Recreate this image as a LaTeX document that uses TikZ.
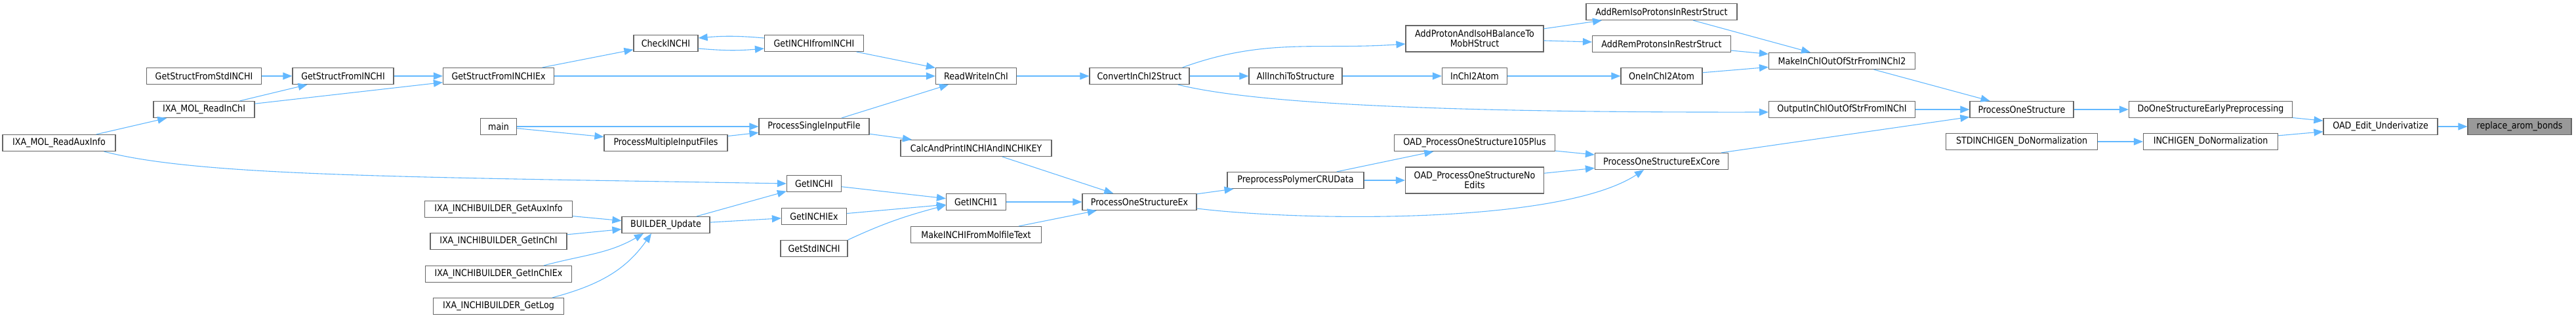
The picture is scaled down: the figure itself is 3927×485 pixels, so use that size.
\documentclass[tikz,border=0pt]{standalone}
\usepackage{fontspec}
\setmainfont{DejaVu Sans}[FakeStretch=0.88]
\usepackage{tikz}
\usetikzlibrary{arrows.meta}

\definecolor{edgeblue}{HTML}{63B8FF}
\definecolor{boxgray}{HTML}{666666}
\definecolor{markgray}{HTML}{999999}

\begin{document}
\begin{tikzpicture}[x=0.5pt,y=-0.5pt,
	fn/.style={draw=boxgray, line width=0.6pt, fill=white, inner sep=0pt,
		minimum height=12.5pt, align=center, font=\fontsize{7.2}{7.4}\selectfont},
	call/.style={draw=edgeblue, line width=0.55pt},
	>={Triangle[length=7pt,width=5.5pt]}]
	\useasboundingbox (0,0) rectangle (3927,485);

	% callers of the reader side
	\path (311,116) node (gsfstd) [fn, minimum width=87.5pt] {GetStructFromStdINCHI}
		  (523,116) node (gsfi) [fn, minimum width=77pt] {GetStructFromINCHI}
		  (760,116) node (gsfiex) [fn, minimum width=84.5pt] {GetStructFromINCHIEx}
		  (311,167) node (ixareadinchi) [fn, minimum width=77pt] {IXA\_MOL\_ReadInChI}
		  (90,218) node (ixaaux) [fn, minimum width=86pt] {IXA\_MOL\_ReadAuxInfo}
		  (1015,66) node (checkinchi) [fn, minimum width=49pt] {CheckINCHI}
		  (1241,66) node (getinchifrom) [fn, minimum width=75.5pt] {GetINCHIfromINCHI}
		  (760,193) node (main) [fn, minimum width=27.5pt] {main}
		  (1015,218) node (pmif) [fn, minimum width=94pt] {ProcessMultipleInputFiles}
		  (1241,193) node (psif) [fn, minimum width=84pt] {ProcessSingleInputFile};

	% builder side
	\path (760,319) node (ibaux) [fn, minimum width=112.5pt] {IXA\_INCHIBUILDER\_GetAuxInfo}
		  (760,368) node (ibinchi) [fn, minimum width=104pt] {IXA\_INCHIBUILDER\_GetInChI}
		  (760,418) node (ibinchiex) [fn, minimum width=111.5pt] {IXA\_INCHIBUILDER\_GetInChIEx}
		  (760,467) node (iblog) [fn, minimum width=99.5pt] {IXA\_INCHIBUILDER\_GetLog}
		  (1015,343) node (bupdate) [fn, minimum width=67pt] {BUILDER\_Update}
		  (1241,280) node (getinchi) [fn, minimum width=41.5pt] {GetINCHI}
		  (1241,330) node (getinchiex) [fn, minimum width=49.5pt] {GetINCHIEx}
		  (1241,379) node (getstdinchi) [fn, minimum width=51pt] {GetStdINCHI};

	\path (1488,116) node (rwinchi) [fn, minimum width=61.5pt] {ReadWriteInChI}
		  (1488,226) node (calcprint) [fn, minimum width=115pt] {CalcAndPrintINCHIAndINCHIKEY}
		  (1488,308) node (getinchi1) [fn, minimum width=45.5pt] {GetINCHI1}
		  (1488,358) node (makemol) [fn, minimum width=99.5pt] {MakeINCHIFromMolfileText}
		  (1737,116) node (convert) [fn, minimum width=76pt] {ConvertInChI2Struct}
		  (1737,308) node (posex) [fn, minimum width=87pt] {ProcessOneStructureEx}
		  (1975,116) node (allinchi) [fn, minimum width=71pt] {AllInchiToStructure}
		  (1975,275) node (preproc) [fn, minimum width=104pt] {PreprocessPolymerCRUData}
		  (2248,59) node (addproton) [fn, minimum width=105pt, minimum height=20pt] {AddProtonAndIsoHBalanceTo\\MobHStruct}
		  (2248,116) node (inchi2atom) [fn, minimum width=49.5pt] {InChI2Atom}
		  (2248,218) node (oad105) [fn, minimum width=122.5pt] {OAD\_ProcessOneStructure105Plus}
		  (2248,275) node (oadnoedits) [fn, minimum width=105.5pt, minimum height=20pt] {OAD\_ProcessOneStructureNo\\Edits};

	\path (2533,18) node (addremiso) [fn, minimum width=115pt] {AddRemIsoProtonsInRestrStruct}
		  (2533,67) node (addrem) [fn, minimum width=105.5pt] {AddRemProtonsInRestrStruct}
		  (2533,116) node (oneinchi2atom) [fn, minimum width=62pt] {OneInChI2Atom}
		  (2533,246) node (posexcore) [fn, minimum width=101.5pt] {ProcessOneStructureExCore}
		  (2808,93) node (makeinchi2) [fn, minimum width=111.5pt] {MakeInChIOutOfStrFromINChI2}
		  (2808,167) node (outputinchi) [fn, minimum width=111.5pt] {OutputInChIOutOfStrFromINChI}
		  (3082,167) node (pos) [fn, minimum width=79pt] {ProcessOneStructure}
		  (3082,216) node (stdgen) [fn, minimum width=115.5pt] {STDINCHIGEN\_DoNormalization}
		  (3370,167) node (doone) [fn, minimum width=124.5pt] {DoOneStructureEarlyPreprocessing}
		  (3370,216) node (inchigen) [fn, minimum width=102.5pt] {INCHIGEN\_DoNormalization}
		  (3629,193) node (oadedit) [fn, minimum width=87pt] {OAD\_Edit\_Underivatize}
		  (3841,193) node (replace) [fn, fill=markgray, minimum width=79pt] {replace\_arom\_bonds};

	% calls
	\draw[call,->] (gsfstd) -- (gsfi);
	\draw[call,->] (gsfi) -- (gsfiex);
	\draw[call,->] (ixareadinchi) -- (gsfi);
	\draw[call,->] (ixareadinchi) -- (gsfiex);
	\draw[call,->] (ixaaux) -- (ixareadinchi);
	\draw[call,->] ([xshift=-9pt]ixaaux.south east) .. controls (300,268) and (600,270) .. (getinchi.west);
	\draw[call,->] (gsfiex) -- (checkinchi);
	\draw[call,->] (gsfiex) -- (rwinchi);
	\draw[call,->] ([yshift=4pt]getinchifrom.west) to[bend right=5] ([yshift=4pt]checkinchi.east);
	\draw[call,->] ([yshift=-4pt]checkinchi.east) to[bend right=5] ([yshift=-4pt]getinchifrom.west);
	\draw[call,->] (getinchifrom) -- (rwinchi);
	\draw[call,->] (main) -- (psif);
	\draw[call,->] (main) -- (pmif);
	\draw[call,->] (pmif) -- (psif);
	\draw[call,->] (psif) -- (rwinchi);
	\draw[call,->] (psif) -- (calcprint);
	\draw[call,->] (calcprint) -- (posex);
	\draw[call,->] (ibaux) -- (bupdate);
	\draw[call,->] (ibinchi) -- (bupdate);
	\draw[call,->] ([xshift=-21.5pt]ibinchiex.north east) to[out=15,in=210] ([xshift=-17pt]bupdate.south);
	\draw[call,->] ([xshift=-9pt]iblog.north east) to[out=15,in=235] ([xshift=-11pt]bupdate.south);
	\draw[call,->] (bupdate) -- (getinchi);
	\draw[call,->] (bupdate) -- (getinchiex);
	\draw[call,->] (getinchi) -- (getinchi1);
	\draw[call,->] (getinchiex) -- (getinchi1);
	\draw[call,->] (getstdinchi.north east) to[out=25,in=195] ([yshift=-2.5pt]getinchi1.west);
	\draw[call,->] (getinchi1) -- (posex);
	\draw[call,->] (makemol) -- (posex);
	\draw[call,->] (rwinchi) -- (convert);
	\draw[call,->] (convert) -- (allinchi);
	\draw[call,->] ([xshift=-5.5pt]convert.north east) to[out=20,in=184] ([yshift=-4pt]addproton.west);
	\draw[call,->] ([xshift=-9pt]convert.south east) .. controls (1900,155) and (2150,172) .. ([yshift=-2pt]outputinchi.west);
	\draw[call,->] (allinchi) -- (inchi2atom);
	\draw[call,->] (inchi2atom) -- (oneinchi2atom);
	\draw[call,->] (addproton) -- (addremiso);
	\draw[call,->] (addproton) -- (addrem);
	\draw[call,->] (addremiso) -- (makeinchi2);
	\draw[call,->] (addrem) -- (makeinchi2);
	\draw[call,->] (oneinchi2atom) -- (makeinchi2);
	\draw[call,->] (posex) -- (preproc);
	\draw[call,->] ([yshift=-5pt]posex.east) .. controls (1990,338) and (2380,342) .. ([xshift=-13.5pt]posexcore.south);
	\draw[call,->] (preproc) -- (oad105);
	\draw[call,->] (preproc) -- (oadnoedits);
	\draw[call,->] (oad105) -- (posexcore);
	\draw[call,->] (oadnoedits) -- (posexcore);
	\draw[call,->] (makeinchi2) -- (pos);
	\draw[call,->] (outputinchi) -- (pos);
	\draw[call,->] (posexcore) -- (pos);
	\draw[call,->] (pos) -- (doone);
	\draw[call,->] (stdgen) -- (inchigen);
	\draw[call,->] (doone) -- (oadedit);
	\draw[call,->] (inchigen) -- (oadedit);
	\draw[call,->] (oadedit) -- (replace);
\end{tikzpicture}
\end{document}
